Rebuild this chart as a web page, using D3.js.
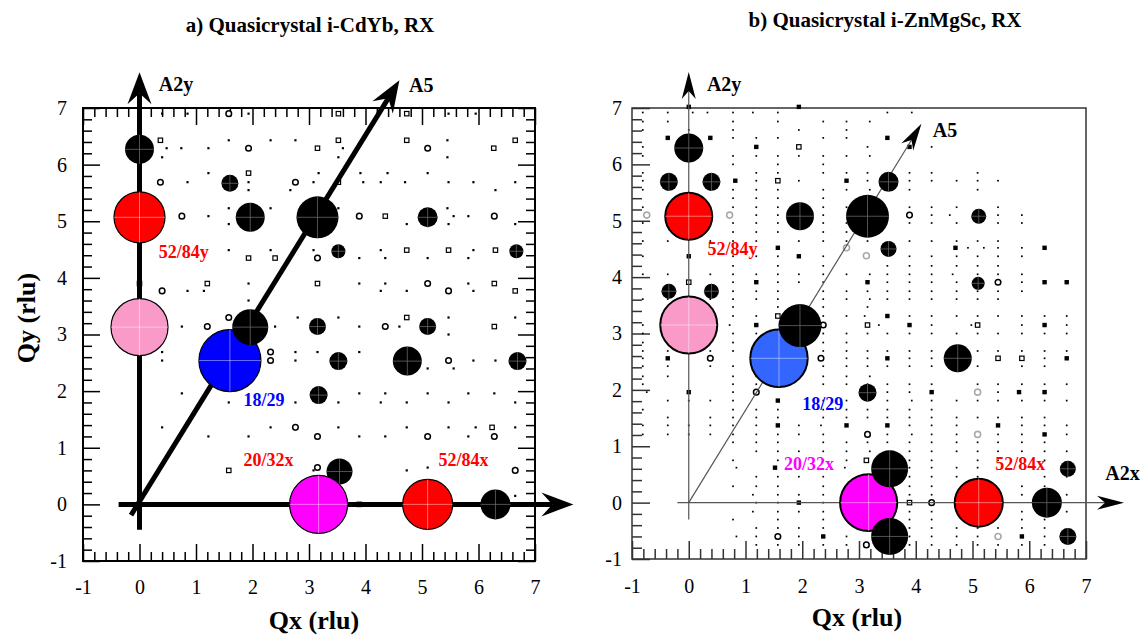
<!DOCTYPE html>
<html><head><meta charset="utf-8">
<script src="https://cdn.jsdelivr.net/npm/d3@7"></script>
<style>body{margin:0;background:#fff}svg{display:block}</style>
</head><body><svg id="c" width="1145" height="636"></svg>
<script>
// ---------------- data ----------------
const titles = ["a) Quasicrystal i-CdYb, RX", "b) Quasicrystal i-ZnMgSc, RX"];
const xTitle = "Qx (rlu)";
const yTitle = "Qy (rlu)";
const majorTicks = [-1, 0, 1, 2, 3, 4, 5, 6, 7];
const tickLabels = ["-1", "0", "1", "2", "3", "4", "5", "6", "7"];
const colorCats = ["k", "r", "p", "b", "m"];

// strong reflections: [Qx, Qy, category, intensity]
const strongA = [
  [0, 6.27, "k", 210], [0, 5.07, "r", 650], [0, 3.13, "p", 812],
  [1.6, 5.67, "k", 72], [1.96, 5.07, "k", 210], [3.15, 5.07, "k", 441],
  [3.52, 4.47, "k", 49], [5.1, 5.07, "k", 100], [6.67, 4.47, "k", 49],
  [1.6, 2.54, "b", 961], [1.96, 3.13, "k", 324],
  [3.15, 3.14, "k", 72], [5.1, 3.14, "k", 72],
  [3.52, 2.53, "k", 81], [4.74, 2.53, "k", 210], [6.69, 2.53, "k", 81],
  [3.17, 1.93, "k", 81], [3.54, 0.58, "k", 169],
  [3.17, 0, "m", 841], [5.1, 0, "r", 625], [6.3, 0, "k", 225]
];
const strongB = [
  [0, 6.29, "k", 210], [-0.35, 5.69, "k", 81], [0.4, 5.69, "k", 81],
  [0, 5.08, "r", 552], [1.96, 5.08, "k", 196], [3.15, 5.08, "k", 462],
  [-0.35, 3.75, "k", 56], [0.4, 3.75, "k", 56], [0, 3.15, "p", 812],
  [1.59, 2.56, "b", 824], [1.96, 3.14, "k", 462],
  [3.52, 5.69, "k", 100], [3.52, 4.5, "k", 64], [5.11, 5.08, "k", 56],
  [5.1, 3.89, "k", 42], [4.74, 2.56, "k", 196], [3.15, 1.95, "k", 81],
  [3.17, 0, "m", 812], [3.54, 0.6, "k", 342], [3.54, -0.6, "k", 342],
  [5.11, 0, "r", 576], [6.31, 0, "k", 225], [6.68, 0.6, "k", 64], [6.68, -0.6, "k", 72]
];

// weak reflections, panel a: rows of [Qy, [Qx...]] (tiny dots)
const weakDotsA = [
  [6.9, [0.4, 0.85, 1.93, 5.47, 5.95]],
  [6.43, [1.58, 2.32, 2.76, 5.45]],
  [6.29, [0.48, 0.74, 1.22, 3.6]],
  [6.13, [0.4, 3.52, 5.45]],
  [5.85, [1.22, 3.17, 3.91, 4.39, 5.1]],
  [5.69, [0.85, 1.93, 3.08, 3.96, 4.27, 4.7, 5.47, 5.91, 6.65]],
  [5.55, [1.93, 2.67, 6.3]],
  [5.23, [0.4, 1.58, 2.32, 3.52, 5.45]],
  [5.09, [1.22, 5.56, 5.82]],
  [4.95, [0.4, 1.58, 4.73, 5.47, 6.65]],
  [4.49, [1.58, 2.32, 3.08, 4.27, 5.91]],
  [4.35, [3.89, 4.35, 5.1, 5.82]],
  [3.9, [1.93, 3.89, 4.35, 5.82]],
  [3.77, [0.85, 1.14, 4.27, 4.73, 5.91]],
  [3.6, [1.93]],
  [3.3, [2.8, 3.52, 5.47, 6.65]],
  [3.14, [0.75, 2.4, 3.89, 4.6]],
  [3.0, [0.4, 5.47]],
  [2.69, [0.4, 1.22, 1.93, 2.76, 3.15, 3.89]],
  [2.54, [0.4, 2.76, 5.91, 6.3]],
  [2.4, [5.1, 5.56]],
  [1.96, [0.75, 3.89, 4.35, 5.1, 5.82, 6.28]],
  [1.8, [1.58, 2.76, 3.52, 4.27, 4.73, 5.47, 6.65]],
  [1.36, [0.4, 2.32, 3.52, 4.73, 5.47, 5.95, 6.65]],
  [1.2, [1.22, 1.93, 3.89, 4.35, 5.82]],
  [0.65, [5.1]],
  [0.6, [3.08, 4.73]],
  [0.15, [6.65]],
  [0, [1.93]]
];
const weakSquaresA = [[3.52,6.9],[4.73,6.9],[0.37,6.43],[3.52,6.43],[4.73,6.43],[6.65,6.43],[3.15,6.29],[6.27,6.29],[1.93,5.85],[3.52,5.69],[4.35,5.09],[4.73,4.49],[5.47,4.49],[6.3,4.49],[1.93,4.35],[2.4,4.35],[0,3.9],[1.2,3.9],[3.15,3.9],[6.28,3.9],[6.65,3.77],[0.4,3.3],[4.73,3.3],[6.28,3.14],[6.24,1.36],[1.58,0.6],[3.89,0]];
const weakRingsA = [[1.58,6.9],[1.93,6.29],[5.1,6.29],[0.37,5.69],[2.76,5.69],[0.75,5.09],[3.89,5.09],[6.28,5.09],[3.15,4.35],[5.1,3.9],[0.4,3.77],[5.47,3.77],[1.58,3.3],[1.2,3.14],[4.35,3.14],[2.32,2.69],[2.32,2.54],[5.47,2.54],[2.76,1.36],[3.15,1.2],[5.1,1.2],[6.28,1.2],[3.15,0.65],[6.65,0.6]];

// weak reflections, panel b
const weakDotsB = [
  [6.92, [-0.81,-0.37,0.07,0.33,0.78,1.13,1.57,3.5,3.93]],
  [6.76, [-0.81,-0.37,0.78,1.57,2.37,2.78,3.19]],
  [6.61, [-0.81,0,0.78,1.94,2.78]],
  [6.47, [0.78,1.19,1.57,2.37,2.78,3.89]],
  [6.31, [-0.81,3.15,4.28]],
  [6.15, [-0.81,0.78,1.19,1.57,1.94,2.37,2.78,3.19]],
  [6.0, [0.78,1.57,2.37]],
  [5.85, [-0.81,1.19,1.57,2.37,2.78,3.15,3.89,4.28,5.09]],
  [5.71, [-0.81,1.19,1.94,3.15,3.89,4.28,4.72,5.09,5.45]],
  [5.55, [-0.81,-0.37,0.38,0.78,1.19,1.57,2.37,2.78,3.19,3.89,5.09]],
  [5.4, [0.78,1.19,1.57,2.37]],
  [5.24, [-0.81,-0.37,0.38,0.78,1.19,1.57,2.37,2.78,3.89,4.28,4.72,5.45]],
  [5.1, [1.19,1.57,2.37,4.28,4.6,5.45,5.87]],
  [4.96, [-0.81,-0.37,0.38,0.78,1.19,1.57,2.37,2.78,3.89,4.28,4.72,5.45,5.87]],
  [4.8, [0.78,1.19,1.57,2.37,2.78]],
  [4.64, [-0.81,-0.37,0.38,0.78,1.19,1.94,2.37,2.78,3.15,3.89,4.28,4.72,5.09,5.45]],
  [4.52, [2.75,4.92,5.2,5.45,5.87]],
  [4.37, [-0.81,0.78,1.19,1.57,2.37,3.89,4.28,4.72,5.09,5.45,5.87]],
  [4.2, [0.78,1.57,2.37,3.5,3.89,4.28,4.72,5.09,5.45]],
  [4.05, [-0.81,-0.37,0.38,0.78,1.19,1.57,1.94,2.37,2.78,3.19,3.5,3.89,4.28,4.65,5.09,5.45,5.87]],
  [3.91, [0.78,1.57,1.94,2.37,3.5,3.89,4.28,4.72,5.87]],
  [3.75, [0.78,1.19,1.57,2.37,2.78,3.15,3.5,3.89,4.28,4.72,5.09,5.45,5.87]],
  [3.61, [-0.81,-0.37,0.38,0.78,1.19,1.57,2.37,2.78,3.19,3.5,3.89,4.28,4.72,5.09,5.45]],
  [3.47, [0.78,1.57,2.37,3.15]],
  [3.31, [0.78,1.19,2.37,2.78,3.1,3.89,4.28,4.72,5.09,5.45,5.87,6.27,6.66]],
  [3.15, [-0.81,0.72,3.35,4.28,4.98,5.87,6.66]],
  [3.0, [-0.81,0.78,1.19,1.57,2.37,2.78,3.15,3.5,3.89,4.28,4.72,5.09,5.45,5.87,6.27,6.66]],
  [2.84, [-0.81,0.78,1.57,2.37,2.78]],
  [2.69, [-0.81,-0.37,0.38,0.78,2.37,2.78,3.15,3.5,3.89,4.28,5.09,5.45,5.87,6.27,6.66]],
  [2.56, [-0.81,2.78,3.15,3.89,4.28,6.27]],
  [2.42, [-0.81,-0.37,0.38,0.78,2.37,2.78,3.15,3.5,3.89,4.28,5.09,5.87,6.27]],
  [2.24, [-0.81,-0.37,0.78,1.19,1.57,2.37,2.78,3.19]],
  [2.1, [-0.81,0.78,1.19,1.57,2.37,2.78,3.15,3.5,3.89,4.28,5.09,5.45,5.87,6.27,6.66]],
  [1.96, [-0.74,0.78,3.5,3.89,5.45]],
  [1.81, [-0.37,0,0.38,0.78,2.37,2.78,3.5,3.93,4.28,4.72,5.09,5.45,5.87,6.27,6.66]],
  [1.65, [-0.81,0.78,1.19,1.57,2.37,2.78,3.15,3.5,3.89,4.28]],
  [1.51, [-0.37,0.38,0.78,1.19,1.57,2.37,2.78,3.15,3.5,3.89,4.28,4.72,5.09,5.45,5.87,6.27]],
  [1.37, [-0.81,-0.37,0,0.38,0.78,1.19,1.94,2.33,3.89,4.28,4.72,5.87,6.27,6.66]],
  [1.21, [-0.81,-0.37,0,0.38,0.78,1.19,1.57,1.94,2.37,3.5,3.93,4.28,4.72,5.45,5.87,6.66]],
  [1.07, [0.78,1.19,1.57,2.37,2.78,3.15,3.5,3.89,4.28,4.72,5.09,5.45,5.87,6.27]],
  [0.91, [1.19,1.57,1.94,2.37,2.78,3.19,3.89,4.28,4.72,5.09,5.45,5.87,6.27,6.66]],
  [0.75, [0.78,1.57,2.37,2.78,3.89,4.28,5.09,5.45,6.27]],
  [0.62, [0.84,2.75,3.89,4.28,4.72,5.09]],
  [0.46, [1.19,1.57,1.94,2.37,3.89,4.28,4.72,5.09,6.27,6.66]],
  [0.29, [0.78,1.19,1.57,2.37,3.89,4.28,5.09,5.87,6.27]],
  [0.14, [1.13,1.57,1.94,2.37,3.89,4.28,5.87,6.66]],
  [0, [1.19,1.57,2.37]],
  [-0.16, [1.13,1.57,1.94,2.37,3.89,4.28,5.87,6.27,6.66]],
  [-0.3, [0.78,1.57,2.37,3.89,4.28,5.09,5.87,6.27]],
  [-0.45, [1.19,1.57,1.94,2.37,3.89,4.28,4.72,5.09,5.45,5.87,6.27]],
  [-0.6, [0.84,1.19,1.94,2.78,3.89,4.28,4.72,5.09,6.27]],
  [-0.75, [1.19,1.57,1.94,2.37,2.78,3.89,4.28,4.72,5.09,5.45,5.87,6.27]]
];
const weakFilledB = [[0,7.02],[1.94,7.02],[-0.37,6.47],[0.38,6.47],[3.5,6.47],[1.19,6.31],[3.89,6.31],[0.82,5.71],[2.78,5.71],[1.57,4.52],[4.7,4.52],[6.27,4.52],[0,4.37],[1.94,4.37],[1.19,3.91],[3.15,3.91],[6.27,3.91],[6.66,3.91],[-0.37,3.31],[0.38,3.31],[3.5,3.31],[1.19,3.15],[3.89,3.15],[6.27,3.15],[-0.37,2.56],[3.5,2.56],[6.66,2.56],[0,1.96],[4.28,1.96],[5.82,1.96],[6.27,1.96],[1.57,1.81],[1.57,1.37],[2.78,1.37],[3.5,1.37],[5.45,1.37],[6.27,1.21],[1.94,0],[2.37,-0.6],[5.87,-0.6],[1.52,0.62]];
const weakSquaresB = [[1.94,6.31],[1.57,5.71],[0,3.91],[1.57,3.31],[3.15,3.15],[5.09,3.15],[5.45,2.56],[5.87,2.56],[3.13,0.75],[3.89,0]];
const weakRingsB = [[3.89,5.1],[5.45,3.91],[2.37,3.15],[0.38,2.56],[2.33,2.56],[1.19,1.96],[3.15,1.21],[4.28,0],[1.57,-0.6],[3.13,-0.75]];
const weakGrayB = [[-0.74,5.1],[0.72,5.1],[2.78,4.52],[3.13,4.38],[5.09,1.96],[5.09,1.21],[5.45,-0.6]];

// reciprocal axes (arrows): [from, to, name]
const axesA = [[[0,-0.45],[0,7.63],"A2y"], [[-0.37,0],[7.68,0],""], [[-0.15,-0.19],[4.6,7.49],"A5"]];
const axesB = [[[0,-0.3],[0,7.64],"A2y"], [[-0.2,0],[7.67,0],"A2x"], [[0,0],[4.1,6.72],"A5"]];

// reflection labels: [text, category, Qx, Qy]
const labelsA = [["52/84y","r",0.34,4.35],["18/29","b",1.84,1.73],["20/32x","r",1.84,0.67],["52/84x","r",5.29,0.67]];
const labelsB = [["52/84y","r",0.33,4.4],["18/29","b",2.0,1.65],["20/32x","m",1.68,0.58],["52/84x","r",5.4,0.58]];

// ---------------- drawing ----------------
const FONT = '"Liberation Serif"';
const svg = d3.select("#c");
const colA = d3.scaleOrdinal().domain(colorCats).range(["#000000","#ff0000","#f99ac8","#0000ff","#ff00ff"]);
const colB = d3.scaleOrdinal().domain(colorCats).range(["#000000","#ff0000","#f99ac8","#3366ff","#ff00ff"]);
const txtColB = d3.scaleOrdinal().domain(colorCats).range(["#000000","#ff0000","#f99ac8","#0000ff","#ff00ff"]);
const rScale = d3.scaleSqrt().domain([0, 1000]).range([0, Math.sqrt(1000)]);
const minorTicks = d3.range(-1, 7.0001, 0.2).filter(v => Math.abs(v - Math.round(v)) > 1e-6);

function panel(cfg) {
  const x = d3.scaleLinear().domain([-1, 7]).range(cfg.xr);
  const y = d3.scaleLinear().domain([-1, 7]).range(cfg.yr);
  const g = svg.append("g");
  const ink = cfg.ink;

  function ax(gen, tr, withLabels, pad) {
    const sc = (gen === d3.axisLeft || gen === d3.axisRight) ? y : x;
    const gm = g.append("g").attr("transform", tr)
      .call(gen(sc).tickValues(minorTicks).tickSize(-cfg.minor).tickFormat(""));
    const gM = g.append("g").attr("transform", tr)
      .call(gen(sc).tickValues(majorTicks).tickSize(-cfg.major).tickPadding(pad || 3)
        .tickFormat(withLabels ? ((d, i) => tickLabels[i]) : ""));
    [gm, gM].forEach(s => {
      s.attr("font-family", null);
      s.select(".domain").remove();
      s.selectAll(".tick line").attr("stroke", ink).attr("stroke-width", cfg.tickW);
      s.selectAll("text").style("font-family", FONT).attr("font-size", 20).attr("fill", "#000");
    });
  }
  ax(d3.axisBottom, `translate(0,${cfg.yr[0]})`, true, cfg.padX);
  ax(d3.axisLeft, `translate(${cfg.xr[0]},0)`, true, cfg.padY);
  if (cfg.mirror) {
    ax(d3.axisTop, `translate(0,${cfg.yr[1]})`, false);
    ax(d3.axisRight, `translate(${cfg.xr[1]},0)`, false);
  }
  g.append("rect").attr("x", cfg.xr[0]).attr("y", cfg.yr[1])
    .attr("width", cfg.xr[1] - cfg.xr[0]).attr("height", cfg.yr[0] - cfg.yr[1])
    .attr("fill", "none").attr("stroke", ink).attr("stroke-width", cfg.frameW);

  // weak reflections
  const weak = g.append("g");
  cfg.dots.forEach(([qy, xs]) => xs.forEach(qx => {
    weak.append("rect").attr("x", x(qx) - cfg.dotS / 2).attr("y", y(qy) - cfg.dotS / 2)
      .attr("width", cfg.dotS).attr("height", cfg.dotS).attr("fill", "#000");
  }));
  (cfg.filled || []).forEach(([qx, qy]) => weak.append("rect").attr("x", x(qx) - 2.2).attr("y", y(qy) - 2.2)
    .attr("width", 4.4).attr("height", 4.4).attr("fill", "#000"));
  cfg.squares.forEach(([qx, qy]) => weak.append("rect").attr("x", x(qx) - 2.2).attr("y", y(qy) - 2.2)
    .attr("width", 4.4).attr("height", 4.4).attr("fill", "#fff").attr("stroke", "#000").attr("stroke-width", 1.2));
  cfg.rings.forEach(([qx, qy]) => weak.append("circle").attr("cx", x(qx)).attr("cy", y(qy)).attr("r", 2.8)
    .attr("fill", "#fff").attr("stroke", "#000").attr("stroke-width", 1.5));
  (cfg.gray || []).forEach(([qx, qy]) => weak.append("circle").attr("cx", x(qx)).attr("cy", y(qy)).attr("r", 3)
    .attr("fill", "#fff").attr("stroke", "#aaa").attr("stroke-width", 1.6));

  // arrows
  cfg.arrows.forEach(([from, to, name]) => {
    const x0 = x(from[0]), y0 = y(from[1]), x1 = x(to[0]), y1 = y(to[1]);
    const dx = x1 - x0, dy = y1 - y0, len = Math.hypot(dx, dy);
    const ux = dx / len, uy = dy / len, px = -uy, py = ux;
    const A = cfg.arrow;
    g.append("line").attr("x1", x0).attr("y1", y0)
      .attr("x2", x1 - ux * A.N).attr("y2", y1 - uy * A.N)
      .attr("stroke", A.color).attr("stroke-width", A.w);
    const pts = [[x1, y1], [x1 - ux * A.L + px * A.W, y1 - uy * A.L + py * A.W],
      [x1 - ux * A.N, y1 - uy * A.N], [x1 - ux * A.L - px * A.W, y1 - uy * A.L - py * A.W]];
    g.append("path").attr("d", d3.line()(pts) + "Z").attr("fill", A.head);
  });

  // strong reflections
  const sg = g.append("g");
  cfg.strong.forEach(([qx, qy, c, I]) => {
    const cx = x(qx), cy = y(qy), r = rScale(I);
    sg.append("circle").attr("cx", cx).attr("cy", cy).attr("r", r)
      .attr("fill", cfg.col(c)).attr("stroke", c === "k" ? "none" : "#000").attr("stroke-width", cfg.outW);
    const lc = c === "k" ? "#666" : "rgba(255,255,255,0.55)";
    sg.append("line").attr("x1", cx - r).attr("x2", cx + r).attr("y1", cy).attr("y2", cy).attr("stroke", lc).attr("stroke-width", 0.8);
    sg.append("line").attr("x1", cx).attr("x2", cx).attr("y1", cy - r).attr("y2", cy + r).attr("stroke", lc).attr("stroke-width", 0.8);
  });

  const T = (sel) => sel.style("font-family", FONT);
  cfg.arrowLabels.forEach(([t, qx, qy]) => T(g.append("text")).attr("x", x(qx)).attr("y", y(qy))
    .attr("font-size", 20).attr("font-weight", "bold").attr("fill", "#000").text(t));
  cfg.labels.forEach(([t, c, qx, qy]) => T(g.append("text")).attr("x", x(qx)).attr("y", y(qy))
    .attr("font-size", 18).attr("font-weight", "bold").attr("fill", cfg.tcol(c)).text(t));
  T(g.append("text")).attr("x", cfg.titleX).attr("y", cfg.titleY).attr("text-anchor", "middle")
    .attr("font-size", 21).attr("font-weight", "bold").text(cfg.title);
  T(g.append("text")).attr("x", (cfg.xr[0] + cfg.xr[1]) / 2 + cfg.xtDx).attr("y", cfg.xtY).attr("text-anchor", "middle")
    .attr("font-size", 26).attr("font-weight", "bold").text(xTitle);
  if (cfg.yTitle) T(g.append("text")).attr("transform", `translate(${cfg.yTitle[0]},${cfg.yTitle[1]}) rotate(-90)`)
    .attr("text-anchor", "middle").attr("font-size", 26).attr("font-weight", "bold").text(yTitle);
}

panel({
  xr: [83, 535], yr: [561, 108], ink: "#000", mirror: true, minor: 9, major: 17, tickW: 1.5, frameW: 2,
  padX: 19, padY: 16, dotS: 2.2,
  dots: weakDotsA, squares: weakSquaresA, rings: weakRingsA,
  arrows: axesA, arrow: { w: 5, L: 32, W: 12, N: 21, color: "#000", head: "#000" },
  arrowLabels: [["A2y", 0.34, 7.3], ["A5", 4.77, 7.28]],
  strong: strongA, col: colA, tcol: colA, outW: 1.2, labels: labelsA,
  title: titles[0], titleX: 310, titleY: 32, xtDx: 5, xtY: 629, yTitle: [35, 318]
});
panel({
  xr: [632, 1086], yr: [559, 108], ink: "#333", mirror: false, minor: 10, major: 18, tickW: 1.5, frameW: 1.5,
  padX: 20, padY: 10, dotS: 1.7,
  dots: weakDotsB, filled: weakFilledB, squares: weakSquaresB, rings: weakRingsB, gray: weakGrayB,
  arrows: axesB, arrow: { w: 1.2, L: 27, W: 7, N: 19, color: "#555", head: "#000" },
  arrowLabels: [["A2y", 0.32, 7.3], ["A5", 4.3, 6.49], ["A2x", 7.34, 0.4]],
  strong: strongB, col: colB, tcol: txtColB, outW: 2, labels: labelsB,
  title: titles[1], titleX: 885, titleY: 27, xtDx: -2, xtY: 626, yTitle: null
});
</script></body></html>
